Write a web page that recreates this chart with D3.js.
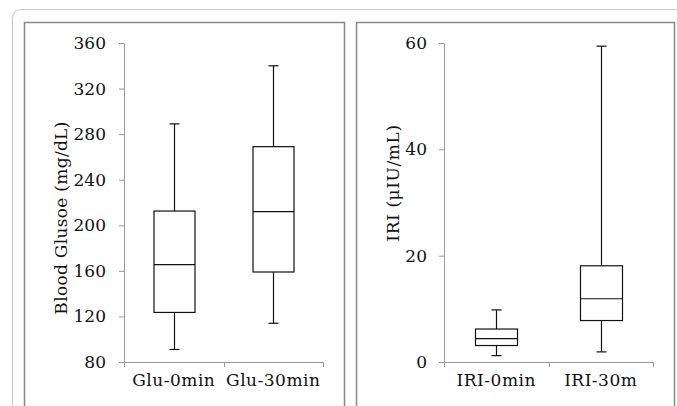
<!DOCTYPE html>
<html>
<meta charset="utf-8">
<head>
<script src="https://cdn.jsdelivr.net/npm/d3@7"></script>
<style>
  body { margin: 0; background: #fff; }
  text { font-family: "DejaVu Serif", serif; }
</style>
</head>
<body>
<svg width="677" height="406"></svg>
<script>
// glucose panel
var gluCats = ["Glu-0min", "Glu-30min"];
var gluMin = [91, 114];
var gluQ1 = [123.5, 159];
var gluMed = [165.5, 212];
var gluQ3 = [212.5, 269];
var gluMax = [289, 340];
var gluTicks = [80, 120, 160, 200, 240, 280, 320, 360];

// insulin panel
var iriCats = ["IRI-0min", "IRI-30m"];
var iriMin = [1.2, 1.9];
var iriQ1 = [3.1, 7.8];
var iriMed = [4.4, 11.9];
var iriQ3 = [6.2, 18.1];
var iriMax = [9.8, 59.4];
var iriTicks = [0, 20, 40, 60];

var fs = "17px";
var svg = d3.select("svg");

// outer rounded frame (bottom clipped off)
svg.append("path")
  .attr("d", "M12.5,420 L12.5,19 Q12.5,9.5 22,9.5 L690,9.5")
  .attr("fill", "none").attr("stroke", "#c8c8c8").attr("stroke-width", 1);

// panel borders
svg.append("rect").attr("x", 24.5).attr("y", 22.5).attr("width", 320).attr("height", 400)
  .attr("fill", "none").attr("stroke", "#888").attr("stroke-width", 1.5);
svg.append("rect").attr("x", 356.5).attr("y", 22.5).attr("width", 318).attr("height", 400)
  .attr("fill", "none").attr("stroke", "#888").attr("stroke-width", 1.5);

function drawPanel(o) {
  var g = svg.append("g");
  var y = d3.scaleLinear().domain(o.domain).range([o.y0, o.y1]);
  var x = d3.scaleBand().domain(o.cats).range([o.x0, o.x1]).padding(0);

  var ya = g.append("g").attr("transform", "translate(" + o.x0 + ",0)")
    .call(d3.axisLeft(y).tickValues(o.ticks).tickSize(5).tickSizeOuter(0).tickPadding(o.pad));
  ya.select(".domain").attr("stroke", "#999");
  ya.selectAll(".tick line").attr("stroke", "#999");
  ya.selectAll(".tick text").attr("fill", "#111").style("font-size", fs)
    .style("font-family", "DejaVu Serif");

  var xa = g.append("g").attr("transform", "translate(0," + o.y0 + ")")
    .call(d3.axisBottom(x).tickSize(0).tickPadding(12));
  xa.select(".domain").remove();
  xa.selectAll(".tick text").attr("fill", "#111").style("font-size", fs)
    .style("font-family", "DejaVu Serif").style("letter-spacing", "0.5px");

  // baseline with boundary ticks
  g.append("line").attr("x1", o.x0).attr("x2", o.x1)
    .attr("y1", o.y0 + 0.5).attr("y2", o.y0 + 0.5).attr("stroke", "#999");
  var edges = o.cats.map(function(c) { return x(c); }).concat([o.x1]);
  g.selectAll(".edge").data(edges).enter().append("line")
    .attr("x1", function(d) { return Math.round(d) + 0.5; })
    .attr("x2", function(d) { return Math.round(d) + 0.5; })
    .attr("y1", o.y0).attr("y2", o.y0 + 5).attr("stroke", "#999");

  // y label
  g.append("text")
    .attr("transform", "translate(" + o.labX + "," + o.labY + ") rotate(-90)")
    .attr("text-anchor", "middle").attr("dy", "0.35em")
    .style("font-size", fs).style("letter-spacing", o.ls).attr("fill", "#111")
    .text(o.label);

  var bw = o.boxW, cw = 10;
  o.cats.forEach(function(c, i) {
    var cx = Math.round(x(c) + x.bandwidth() / 2) + 0.5;
    var bg = g.append("g").attr("stroke", "#111").attr("stroke-width", 1.2).attr("fill", "none");
    bg.append("line").attr("x1", cx).attr("x2", cx).attr("y1", y(o.max[i])).attr("y2", y(o.q3[i]));
    bg.append("line").attr("x1", cx).attr("x2", cx).attr("y1", y(o.q1[i])).attr("y2", y(o.min[i]));
    bg.append("line").attr("x1", cx - cw / 2).attr("x2", cx + cw / 2).attr("y1", y(o.max[i])).attr("y2", y(o.max[i]));
    bg.append("line").attr("x1", cx - cw / 2).attr("x2", cx + cw / 2).attr("y1", y(o.min[i])).attr("y2", y(o.min[i]));
    bg.append("rect").attr("x", cx - bw / 2).attr("width", bw)
      .attr("y", y(o.q3[i])).attr("height", y(o.q1[i]) - y(o.q3[i]));
    bg.append("line").attr("x1", cx - bw / 2).attr("x2", cx + bw / 2).attr("y1", y(o.med[i])).attr("y2", y(o.med[i]));
  });
}

drawPanel({
  cats: gluCats, min: gluMin, q1: gluQ1, med: gluMed, q3: gluQ3, max: gluMax,
  ticks: gluTicks, domain: [80, 360], x0: 124, x1: 323, y0: 362, y1: 43,
  pad: 13, boxW: 41, label: "Blood Glusoe (mg/dL)", labX: 61, labY: 218, ls: "0.3px"
});
drawPanel({
  cats: iriCats, min: iriMin, q1: iriQ1, med: iriMed, q3: iriQ3, max: iriMax,
  ticks: iriTicks, domain: [0, 60], x0: 444, x1: 653, y0: 362, y1: 43,
  pad: 12, boxW: 42, label: "IRI (μIU/mL)", labX: 393, labY: 183, ls: "0.6px"
});
</script>
</body>
</html>
